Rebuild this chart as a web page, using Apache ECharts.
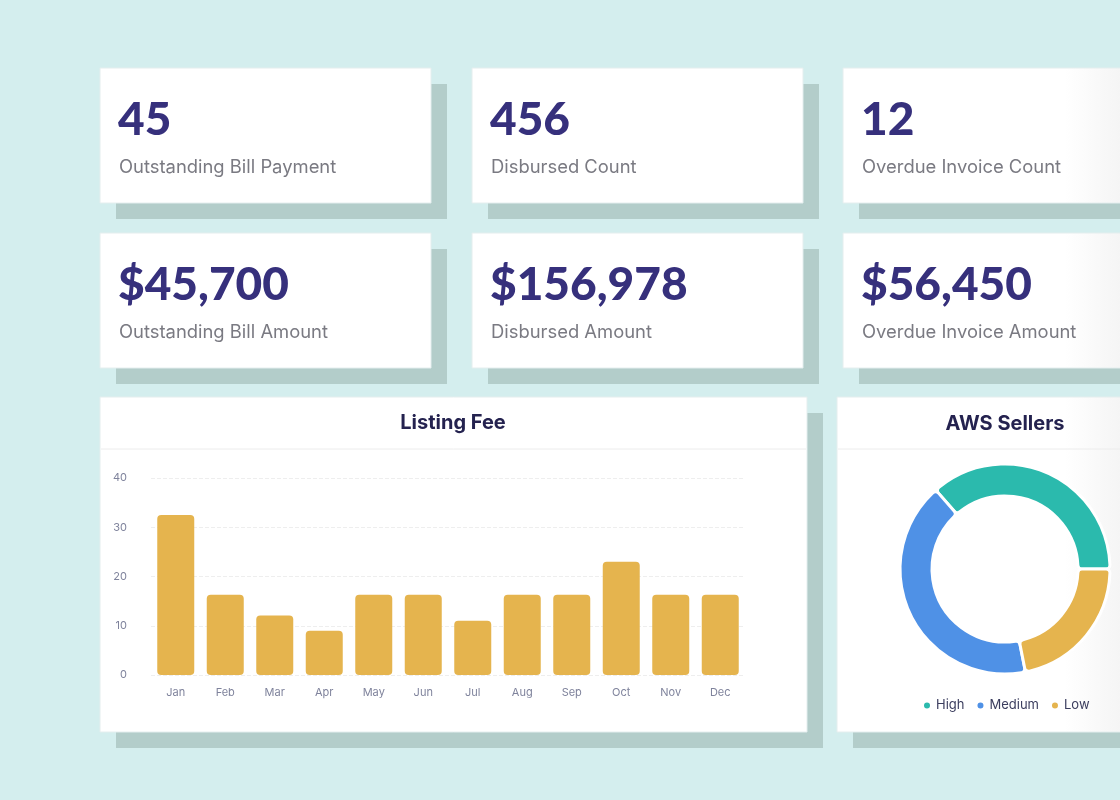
<html>
  <head>
    <meta charset="utf-8" />
    <script src="https://cdn.jsdelivr.net/npm/echarts@6/dist/echarts.min.js"></script>
  </head>
  <body>
    <style>
      html,
      body,
      #main {
        width: 100%;
        height: 100%;
        margin: 0;
      }
    </style>
    <div id="main"></div>
    <script>
      // bar chart data
      const months = ["Jan", "Feb", "Mar", "Apr", "May", "Jun", "Jul", "Aug", "Sep", "Oct", "Nov", "Dec"];
      const listingFee = [32.5, 16.3, 12.1, 9, 16.3, 16.3, 11, 16.3, 16.3, 23, 16.3, 16.3];

      // donut data
      const sellerLevels = ["High", "Medium", "Low"];
      const sellerCounts = [35, 40, 21];

      // kpi cards
      const kpiValues = ["45", "456", "12", "$45,700", "$156,978", "$56,450"];
      const kpiLabels = [
        "Outstanding Bill Payment",
        "Disbursed Count",
        "Overdue Invoice Count",
        "Outstanding Bill Amount",
        "Disbursed Amount",
        "Overdue Invoice Amount",
      ];

      var chart = echarts.init(document.getElementById("main"));

      var shadowColor = "#b3cdca";
      var fade = new echarts.graphic.LinearGradient(
        1065, 0, 1120, 0,
        [
          { offset: 0, color: "#ffffff" },
          { offset: 1, color: "#f5f5f5" },
        ],
        true
      );

      function panel(x, y, w, h, fill) {
        return [
          { type: "rect", shape: { x: x + 16, y: y + 16, width: w, height: h }, style: { fill: shadowColor } },
          { type: "rect", shape: { x: x, y: y, width: w, height: h }, style: { fill: fill || "#fff", stroke: "#e4eeee", lineWidth: 1 } },
        ];
      }

      var graphics = [];
      var colX = [100, 472, 843];
      var rowY = [68, 233];
      kpiValues.forEach(function (v, i) {
        var x = colX[i % 3];
        var y = rowY[Math.floor(i / 3)];
        graphics = graphics.concat(panel(x, y, 331, 135, i % 3 === 2 ? fade : null));
        graphics.push({
          type: "text",
          x: x + 18,
          y: y + 52,
          style: {
            text: v,
            fill: "#36307c",
            font: "900 46px Lato",
            verticalAlign: "middle",
          },
        });
        graphics.push({
          type: "text",
          x: x + 19,
          y: y + 99,
          style: {
            text: kpiLabels[i],
            fill: "#7a7a82",
            font: "18.4px Inter",
            verticalAlign: "middle",
          },
        });
      });

      // chart panels
      graphics = graphics.concat(panel(100, 397, 707, 335));
      graphics = graphics.concat(panel(837, 397, 300, 335, fade));
      graphics.push(
        { type: "line", shape: { x1: 101, y1: 449, x2: 806, y2: 449 }, style: { stroke: "#ececec", lineWidth: 1 } },
        { type: "line", shape: { x1: 838, y1: 449, x2: 1120, y2: 449 }, style: { stroke: "#ececec", lineWidth: 1 } },
        {
          type: "text",
          x: 453,
          y: 423,
          style: { text: "Listing Fee", fill: "#24224f", font: "bold 20px Inter", align: "center", verticalAlign: "middle" },
        },
        {
          type: "text",
          x: 1005,
          y: 424,
          style: { text: "AWS Sellers", fill: "#24224f", font: "bold 20px Inter", align: "center", verticalAlign: "middle" },
        }
      );

      var option = {
        backgroundColor: "#d4eeee",
        animation: false,
        graphic: graphics,
        grid: { left: 151, right: 375, top: 478, bottom: 125 },
        xAxis: {
          type: "category",
          data: months,
          axisLine: { show: false },
          axisTick: { show: false },
          axisLabel: { color: "#7f839c", fontSize: 11, fontFamily: "Inter", margin: 12 },
        },
        yAxis: {
          type: "value",
          min: 0,
          max: 40,
          interval: 10,
          axisLabel: { color: "#7f839c", fontSize: 11, fontFamily: "Inter", margin: 24 },
          splitLine: { lineStyle: { color: "#eeeeee", type: "dashed" } },
        },
        legend: {
          data: sellerLevels,
          left: 917,
          top: 694,
          icon: "circle",
          itemWidth: 8,
          itemHeight: 8,
          itemGap: 11,
          textStyle: { color: "#3b3d5e", fontSize: 13, fontFamily: "Inter" },
        },
        series: [
          {
            type: "bar",
            data: listingFee,
            barWidth: 37,
            itemStyle: { color: "#e5b44e", borderRadius: 4 },
          },
          {
            type: "pie",
            center: [1005, 569],
            radius: [73, 105],
            startAngle: 0,
            clockwise: false,
            label: { show: false },
            itemStyle: { borderColor: "#fff", borderWidth: 3, borderRadius: 4 },
            color: ["#2bbaad", "#4f91e6", "#e5b44e"],
            data: sellerLevels.map(function (name, i) {
              return { name: name, value: sellerCounts[i] };
            }),
          },
        ],
      };

      chart.setOption(option);

      window.onresize = chart.resize;
    </script>
  </body>
</html>
